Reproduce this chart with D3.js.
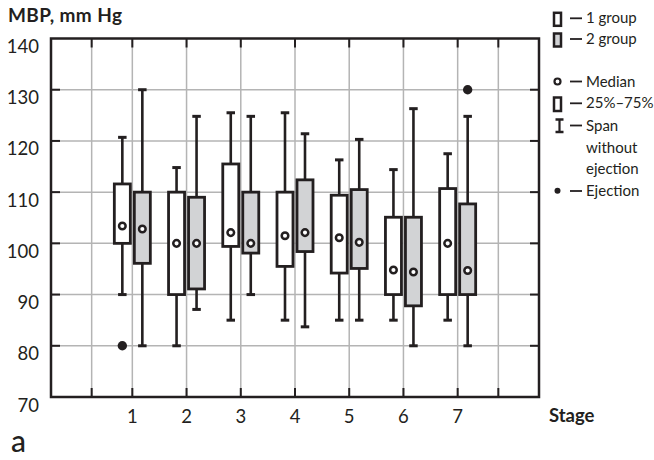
<!DOCTYPE html>
<html>
<head>
<meta charset="utf-8">
<script src="https://cdn.jsdelivr.net/npm/d3@7"></script>
<style>
  html, body { margin: 0; padding: 0; background: #fff; }
  svg { display: block; font-family: Lato, "Open Sans", sans-serif; }
</style>
</head>
<body>
<svg id="chart" width="654" height="460"></svg>
<script>
// ---- data ----
const stages = [1, 2, 3, 4, 5, 6, 7];
const yTicks = [70, 80, 90, 100, 110, 120, 130, 140];
// group 1
const g1Min    = [90, 80, 85, 85, 85, 85, 85];
const g1Q1     = [100, 90, 99.4, 95.5, 94.2, 90, 90];
const g1Median = [103.4, 100, 102.1, 101.5, 101.1, 94.8, 100];
const g1Q3     = [111.6, 110, 115.5, 110, 109.4, 105.1, 110.7];
const g1Max    = [120.7, 114.8, 125.5, 125.5, 116.3, 114.4, 117.5];
// group 2
const g2Min    = [80, 87.1, 90, 83.7, 85, 80, 80];
const g2Q1     = [96.1, 91.1, 98.1, 98.4, 95.1, 87.8, 90];
const g2Median = [102.8, 100, 100, 102.1, 100.2, 94.4, 94.7];
const g2Q3     = [110, 109, 110, 112.4, 110.5, 105.1, 107.7];
const g2Max    = [130, 124.8, 124.8, 121.4, 120.3, 126.3, 124.8];
// ejections (outliers)
const outStage = [1, 7];
const outGroup = [1, 2];
const outValue = [80, 130];
const groupNames = ["1 group", "2 group"];
const legendLabels = ["Median", "25%\u201375%", "Span", "without", "ejection", "Ejection"];

// ---- layout ----
const INK = "#231f20", GRID = "#b4b4b4", FILL2 = "#d2d3d5";
const svg = d3.select("#chart");
const x = d3.scaleLinear().domain([-0.5, 8.5]).range([51, 539]);
const y = d3.scaleLinear().domain([70, 140]).range([397, 38.5]);
const xGrid = [0.25].concat(stages, [7.75]);
const yGrid = yTicks.filter(v => v > 70 && v < 140);

// grid
svg.append("g").selectAll("line").data(yGrid).join("line")
  .attr("x1", x(-0.5)).attr("x2", x(8.5))
  .attr("y1", d => y(d)).attr("y2", d => y(d))
  .attr("stroke", GRID).attr("stroke-width", 1.5);
svg.append("g").selectAll("line").data(xGrid).join("line")
  .attr("y1", y(70)).attr("y2", y(140))
  .attr("x1", d => x(d)).attr("x2", d => x(d))
  .attr("stroke", GRID).attr("stroke-width", 1.5);

// inner tick marks
const tk = 9;
const ticks = svg.append("g").attr("stroke", INK).attr("stroke-width", 2);
xGrid.forEach(d => {
  ticks.append("line").attr("x1", x(d)).attr("x2", x(d)).attr("y1", y(70)).attr("y2", y(70) - tk);
  ticks.append("line").attr("x1", x(d)).attr("x2", x(d)).attr("y1", y(140)).attr("y2", y(140) + tk);
});
yGrid.forEach(d => {
  ticks.append("line").attr("x1", x(-0.5)).attr("x2", x(-0.5) + tk).attr("y1", y(d)).attr("y2", y(d));
  ticks.append("line").attr("x1", x(8.5)).attr("x2", x(8.5) - tk).attr("y1", y(d)).attr("y2", y(d));
});

// border
svg.append("rect")
  .attr("x", x(-0.5)).attr("y", y(140))
  .attr("width", x(8.5) - x(-0.5)).attr("height", y(70) - y(140))
  .attr("fill", "none").attr("stroke", INK).attr("stroke-width", 2.5);

// y labels
svg.append("g").selectAll("text").data(yTicks).join("text")
  .attr("x", 39).attr("y", d => y(d) + 14.5)
  .attr("text-anchor", "end").attr("font-size", 18.5).attr("fill", INK)
  .text(d => d);
// x labels
svg.append("g").selectAll("text").data(stages).join("text")
  .attr("x", d => x(d)).attr("y", 423)
  .attr("text-anchor", "middle").attr("font-size", 18.5).attr("fill", INK)
  .text(d => d);

svg.append("text").attr("x", 549).attr("y", 421.7)
  .attr("font-size", 18.5).attr("font-weight", "bold").attr("fill", INK).text("Stage");
svg.append("text").attr("x", 8).attr("y", 21.5)
  .attr("font-size", 19).attr("font-weight", "bold").attr("letter-spacing", 0.4)
  .attr("fill", INK).text("MBP, mm Hg");
svg.append("text").attr("x", 11).attr("y", 452)
  .attr("font-size", 30).attr("font-weight", 500).attr("fill", INK).text("a");

// boxes
const groups = [
  { off: -10, fill: "#fff", min: g1Min, q1: g1Q1, med: g1Median, q3: g1Q3, max: g1Max },
  { off: 10, fill: FILL2, min: g2Min, q1: g2Q1, med: g2Median, q3: g2Q3, max: g2Max }
];
const boxW = 16, capW = 8.5;
groups.forEach((g, gi) => {
  const data = stages.map((s, i) => ({
    cx: x(s) + g.off, min: g.min[i], q1: g.q1[i], med: g.med[i], q3: g.q3[i], max: g.max[i]
  }));
  const gg = svg.append("g").attr("class", "grp" + (gi + 1));
  // whiskers
  gg.selectAll(".wh").data(data).join("line").attr("class", "wh")
    .attr("x1", d => d.cx).attr("x2", d => d.cx)
    .attr("y1", d => y(d.max)).attr("y2", d => y(d.min))
    .attr("stroke", INK).attr("stroke-width", 2.6);
  gg.selectAll(".capT").data(data).join("line").attr("class", "capT")
    .attr("x1", d => d.cx - capW / 2).attr("x2", d => d.cx + capW / 2)
    .attr("y1", d => y(d.max)).attr("y2", d => y(d.max))
    .attr("stroke", INK).attr("stroke-width", 3);
  gg.selectAll(".capB").data(data).join("line").attr("class", "capB")
    .attr("x1", d => d.cx - capW / 2).attr("x2", d => d.cx + capW / 2)
    .attr("y1", d => y(d.min)).attr("y2", d => y(d.min))
    .attr("stroke", INK).attr("stroke-width", 3);
  gg.selectAll(".box").data(data).join("rect").attr("class", "box")
    .attr("x", d => d.cx - boxW / 2).attr("width", boxW)
    .attr("y", d => y(d.q3)).attr("height", d => y(d.q1) - y(d.q3))
    .attr("fill", g.fill).attr("stroke", INK).attr("stroke-width", 2.8);
  gg.selectAll(".med").data(data).join("circle").attr("class", "med")
    .attr("cx", d => d.cx).attr("cy", d => y(d.med)).attr("r", 3.3)
    .attr("fill", "#fff").attr("stroke", INK).attr("stroke-width", 2.5);
});
// ejections
svg.append("g").selectAll("circle").data(outStage.map((s, i) => ({ s, g: outGroup[i], v: outValue[i] })))
  .join("circle")
  .attr("cx", d => x(d.s) + groups[d.g - 1].off).attr("cy", d => y(d.v)).attr("r", 4.7)
  .attr("fill", INK);

// legend
const lg = svg.append("g").attr("fill", INK).attr("font-size", 15);
const lx = 557.5, dashX1 = 570, dashX2 = 582, tx = 586;
function dash(yb) {
  lg.append("line").attr("x1", dashX1).attr("x2", dashX2).attr("y1", yb - 5).attr("y2", yb - 5)
    .attr("stroke", INK).attr("stroke-width", 1.8);
}
function label(yb, t) { lg.append("text").attr("x", tx).attr("y", yb).text(t); }
// groups
[[23.3, "#fff"], [44, FILL2]].forEach((r, i) => {
  lg.append("rect").attr("x", lx - 3.5).attr("y", r[0] - 10.5).attr("width", 7).attr("height", 13)
    .attr("fill", r[1]).attr("stroke", INK).attr("stroke-width", 2.5);
  dash(r[0]); label(r[0], groupNames[i]);
});
// median
lg.append("circle").attr("cx", lx).attr("cy", 81.5).attr("r", 3).attr("fill", "#fff")
  .attr("stroke", INK).attr("stroke-width", 2.2);
dash(86.5); label(86.5, legendLabels[0]);
// 25-75
lg.append("rect").attr("x", lx - 3.5).attr("y", 97.5).attr("width", 7).attr("height", 13.5)
  .attr("fill", "#fff").attr("stroke", INK).attr("stroke-width", 2.5);
dash(108.3); label(108.3, legendLabels[1]);
// span
lg.append("line").attr("x1", lx + 2).attr("x2", lx + 2).attr("y1", 119.5).attr("y2", 132)
  .attr("stroke", INK).attr("stroke-width", 2.2);
lg.append("line").attr("x1", lx - 2).attr("x2", lx + 6).attr("y1", 119.5).attr("y2", 119.5)
  .attr("stroke", INK).attr("stroke-width", 2.5);
lg.append("line").attr("x1", lx - 2).attr("x2", lx + 6).attr("y1", 132).attr("y2", 132)
  .attr("stroke", INK).attr("stroke-width", 2.5);
dash(130.5); label(130.5, legendLabels[2]);
label(152.5, legendLabels[3]);
label(174, legendLabels[4]);
// ejection
lg.append("circle").attr("cx", lx).attr("cy", 190.8).attr("r", 3).attr("fill", INK);
dash(196); label(196, legendLabels[5]);
</script>
</body>
</html>
